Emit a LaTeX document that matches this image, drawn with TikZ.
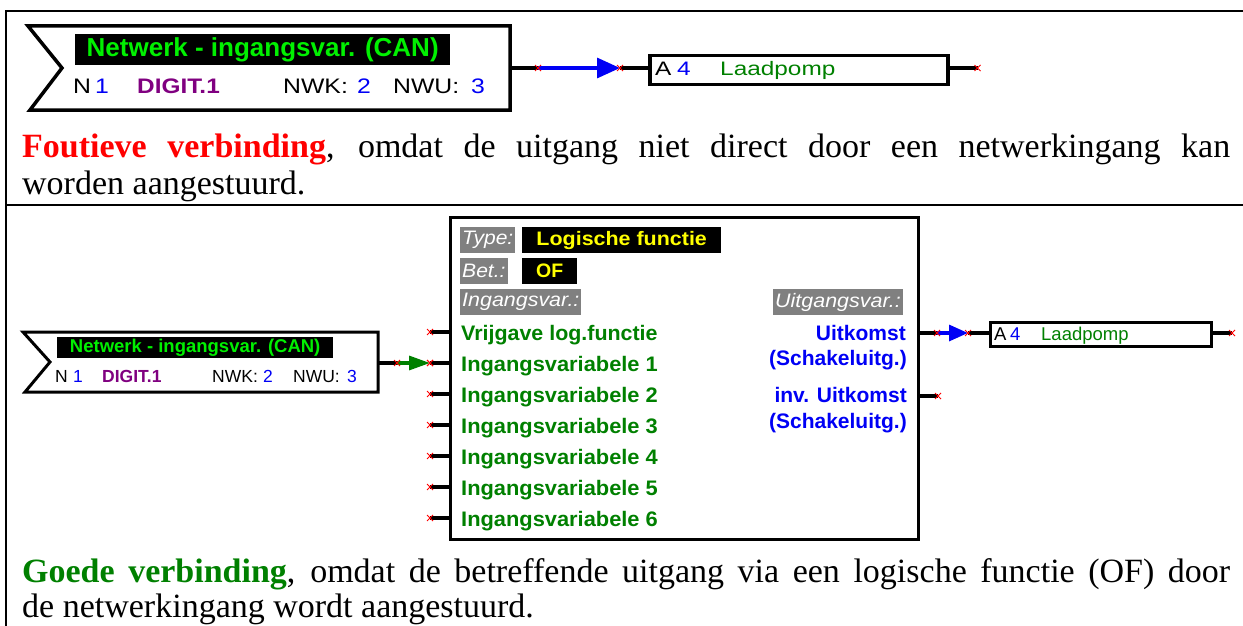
\documentclass[tikz,border=0pt]{standalone}
\usepackage{fontspec}
\setmainfont{Liberation Serif}
\newfontfamily\arial{Liberation Sans}
\usetikzlibrary{arrows.meta}
\definecolor{netgreen}{RGB}{0,240,0}
\definecolor{dgreen}{RGB}{0,128,0}
\definecolor{dpurple}{RGB}{128,0,128}
\definecolor{nblue}{RGB}{0,0,245}
\definecolor{lgray}{RGB}{128,128,128}
\definecolor{lyellow}{RGB}{255,255,0}
\definecolor{xred}{RGB}{255,0,0}
\newcommand\sx[2]{\scalebox{#1}[1]{#2}}
\newcommand\fs[1]{\fontsize{#1}{#1}\selectfont}
\tikzset{
  lbl/.style={inner sep=0pt, anchor=base west},
  rlbl/.style={inner sep=0pt, anchor=base east},
  wire/.style={line width=3.2pt, line cap=butt},
  titlebox/.style={fill=black, text=netgreen, inner sep=0pt, anchor=north west},
  gbox/.style={fill=lgray, text=white, font=\arial\itshape\fs{19.5}, inner xsep=2pt, inner ysep=0pt, minimum height=26pt},
  bbox/.style={fill=black, text=lyellow, font=\arial\bfseries\fs{19.5}, inner sep=0pt, minimum height=26pt, anchor=north west},
  pumpbox/.style={draw, line width=3pt, inner sep=0pt, anchor=north west},
  inlbl/.style={lbl, text=dgreen, font=\arial\bfseries\fs{21}},
  outlbl/.style={rlbl, text=nblue, font=\arial\bfseries\fs{21}},
  redx/.pic={\draw[xred, line width=0.8pt] (-3,-3) -- (3,3) (-3,3) -- (3,-3);}
}
\begin{document}
\begin{tikzpicture}[x=1pt, y=-1pt]
\useasboundingbox (0,0) rectangle (1243,626);

% table rules
\draw[line width=2pt] (6,11) -- (6,626);
\draw[line width=2.5pt] (5,11) -- (1243,11);
\draw[line width=2.5pt] (6,205) -- (1243,205);

% ---------- upper example: network input straight to output ----------
\draw[line width=3.5pt, line join=miter] (28,26) -- (510,26) -- (510,110) -- (30,110) -- (62,68) -- cycle;
\node[titlebox, minimum width=375pt, minimum height=31pt, font=\arial\bfseries\fs{26}] (netA-title) at (75,34) {Netwerk - ingangsvar. (CAN)};
\begin{scope}[every node/.style={lbl, font=\arial\fs{21}}]
  \node (netA-n)  at (73,94)  {\sx{1.18}{N}};
  \node[text=nblue] (netA-nv) at (95,94) {\sx{1.18}{1}};
  \node[text=dpurple, font=\arial\bfseries\fs{21}] (netA-d) at (137,94) {\sx{1.16}{DIGIT.1}};
  \node (netA-k)  at (283,94) {\sx{1.18}{NWK:}};
  \node[text=nblue] (netA-kv) at (357,94) {\sx{1.18}{2}};
  \node (netA-u)  at (393,94) {\sx{1.18}{NWU:}};
  \node[text=nblue] (netA-uv) at (471,94) {\sx{1.18}{3}};
\end{scope}

\coordinate (netA-out) at (510,68);
\coordinate (pA1) at (538,68);
\coordinate (pA2) at (620,68);
\node[pumpbox, line width=3.5pt, minimum width=298pt, minimum height=29pt] (pumpA) at (648,54) {};
\begin{scope}[every node/.style={lbl, font=\arial\fs{19.5}}]
  \node at (655,76) {\sx{1.25}{A}};
  \node[text=nblue] at (677,76) {\sx{1.25}{4}};
  \node[text=dgreen] at (720,76) {\sx{1.25}{Laadpomp}};
\end{scope}
\draw[wire] (netA-out) -- (pA1);
\draw[wire, nblue, -{Triangle[length=23pt,width=20pt]}] (pA1) -- (pA2);
\draw[wire] (pA2) -- (pA2 -| pumpA.west);
\draw[wire] (pA2 -| pumpA.east) -- ++(28,0) coordinate (pA3);
\pic at (pA1) {redx};
\pic at (pA2) {redx};
\pic at (pA3) {redx};

\node[lbl, font=\fs{34}] (txtA1) at (22,157) {\makebox[1208pt][s]{\textcolor{xred}{\bfseries Foutieve verbinding}, omdat de uitgang niet direct door een netwerkingang kan}};
\node[lbl, font=\fs{34}] (txtA2) at (22,194) {worden aangestuurd.};

% ---------- lower example: via a logic function ----------
\draw[line width=3pt, line join=miter] (23,332) -- (378,332) -- (378,392) -- (25,392) -- (50,362) -- cycle;
\node[titlebox, minimum width=276pt, minimum height=21pt, font=\arial\bfseries\fs{18.5}] (netB-title) at (57,337) {Netwerk - ingangsvar. (CAN)};
\begin{scope}[every node/.style={lbl, font=\arial\fs{17.5}}]
  \node (netB-n)  at (55,382)  {N};
  \node[text=nblue] (netB-nv) at (73,382) {1};
  \node[text=dpurple, font=\arial\bfseries\fs{17.5}] (netB-d) at (102,382) {DIGIT.1};
  \node (netB-k)  at (212,382) {NWK:};
  \node[text=nblue] (netB-kv) at (263,382) {2};
  \node (netB-u)  at (293,382) {NWU:};
  \node[text=nblue] (netB-uv) at (347,382) {3};
\end{scope}

% logic function block
\node[draw, line width=2.5pt, minimum width=468pt, minimum height=322pt, inner sep=0pt, anchor=north west] (logic) at (449,216) {};
\node[gbox, anchor=north west] (typeL) at (460,227) {\sx{1.08}{Type:}};
\node[bbox, minimum width=199pt] (typeV) at (522,227) {\sx{1.1}{Logische functie}};
\node[gbox, anchor=north west] (betL) at (460,258) {\sx{1.08}{Bet.:}};
\node[bbox, minimum width=55pt] (betV) at (522,258) {OF};
\node[gbox, anchor=north west] (inL) at (460,289) {\sx{1.1}{Ingangsvar.:}};
\node[gbox, anchor=north east] (outL) at (903,289) {\sx{1.1}{Uitgangsvar.:}};

\node[inlbl] (vr)  at (461,340) {\sx{1.02}{Vrijgave log.functie}};
\node[inlbl] (iv1) at (461,371) {\sx{1.04}{Ingangsvariabele 1}};
\node[inlbl] (iv2) at (461,402) {\sx{1.04}{Ingangsvariabele 2}};
\node[inlbl] (iv3) at (461,433) {\sx{1.04}{Ingangsvariabele 3}};
\node[inlbl] (iv4) at (461,464) {\sx{1.04}{Ingangsvariabele 4}};
\node[inlbl] (iv5) at (461,495) {\sx{1.04}{Ingangsvariabele 5}};
\node[inlbl] (iv6) at (461,526) {\sx{1.04}{Ingangsvariabele 6}};

\node[outlbl] (uk)  at (906,340) {Uitkomst};
\node[outlbl] (uks) at (907,365) {(Schakeluitg.)};
\node[outlbl] (iuk) at (907,402) {inv. Uitkomst};
\node[outlbl] (ius) at (907,428) {(Schakeluitg.)};

% input pins
\foreach \y [count=\i from 0] in {332,363,394,425,456,487,518}{
  \coordinate (in\i) at (430,\y);
  \draw[wire] (in\i -| logic.west) -- (in\i);
  \pic at (in\i) {redx};
}

% network input into input variable 1
\coordinate (netB-out) at (378,363);
\coordinate (gB1) at (397,363);
\draw[wire] (netB-out) -- (gB1);
\draw[wire, dgreen, -{Triangle[length=21pt,width=14pt]}] (gB1) -- (in1);
\pic at (gB1) {redx};
\pic at (in1) {redx};

% output pins
\coordinate (out0) at (937,333);
\coordinate (out1) at (938,396);
\draw[wire] (out0 -| logic.east) -- (out0);
\draw[wire] (out1 -| logic.east) -- (out1);
\coordinate (bB2) at (968,333);
\node[pumpbox, minimum width=221pt, minimum height=24pt] (pumpB) at (989,321) {};
\begin{scope}[every node/.style={lbl, font=\arial\fs{18.5}}]
  \node at (994,340) {A};
  \node[text=nblue] at (1010,340) {4};
  \node[text=dgreen] at (1041,340) {Laadpomp};
\end{scope}
\draw[wire, nblue, -{Triangle[length=19pt,width=16pt]}] (out0) -- (bB2);
\draw[wire] (bB2) -- (bB2 -| pumpB.west);
\draw[wire] (bB2 -| pumpB.east) -- ++(19,0) coordinate (bB3);
\pic at (out0) {redx};
\pic at (out1) {redx};
\pic at (bB2) {redx};
\pic at (bB3) {redx};

\node[lbl, font=\fs{34}] (txtB1) at (22,582) {\makebox[1208pt][s]{\textcolor{dgreen}{\bfseries Goede verbinding}, omdat de betreffende uitgang via een logische functie (OF) door}};
\node[lbl, font=\fs{34}] (txtB2) at (22,617) {de netwerkingang wordt aangestuurd.};
\end{tikzpicture}
\end{document}
